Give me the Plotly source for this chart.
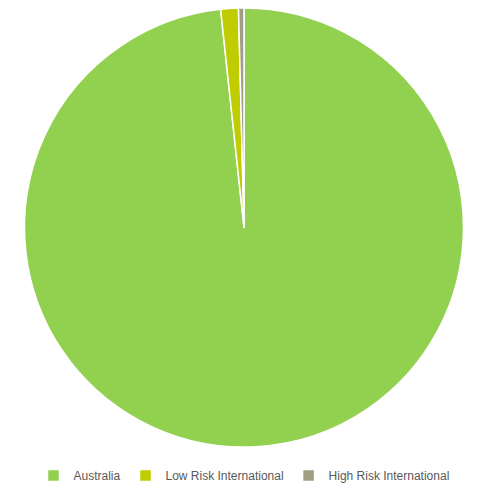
import plotly.graph_objects as go

labels = ["Australia", "Low Risk International", "High Risk International"]
values = [98.3, 1.3, 0.4]
colors = ["#92D050", "#BFCC00", "#A09E85"]

fig = go.Figure(go.Pie(
    labels=labels, values=values, sort=False, direction="clockwise", rotation=0,
    marker=dict(colors=colors, line=dict(color="white", width=1.5)),
    textinfo="none", hoverinfo="label+percent",
    domain=dict(x=[0, 1], y=[0, 1]),
))
fig.update_layout(
    width=479, height=485, paper_bgcolor="white", plot_bgcolor="white",
    margin=dict(l=24, r=15, t=8, b=38, autoexpand=False),
    showlegend=True,
    legend=dict(orientation="h", x=0.5, xanchor="center",
                y=-0.032, yanchor="top",
                font=dict(family="Liberation Sans, Arial, sans-serif", size=12, color="#595959"),
                itemwidth=30, tracegroupgap=0),
)
fig.write_html("out.html", config={"displayModeBar": False},
               post_script="document.body.style.margin='0';")
